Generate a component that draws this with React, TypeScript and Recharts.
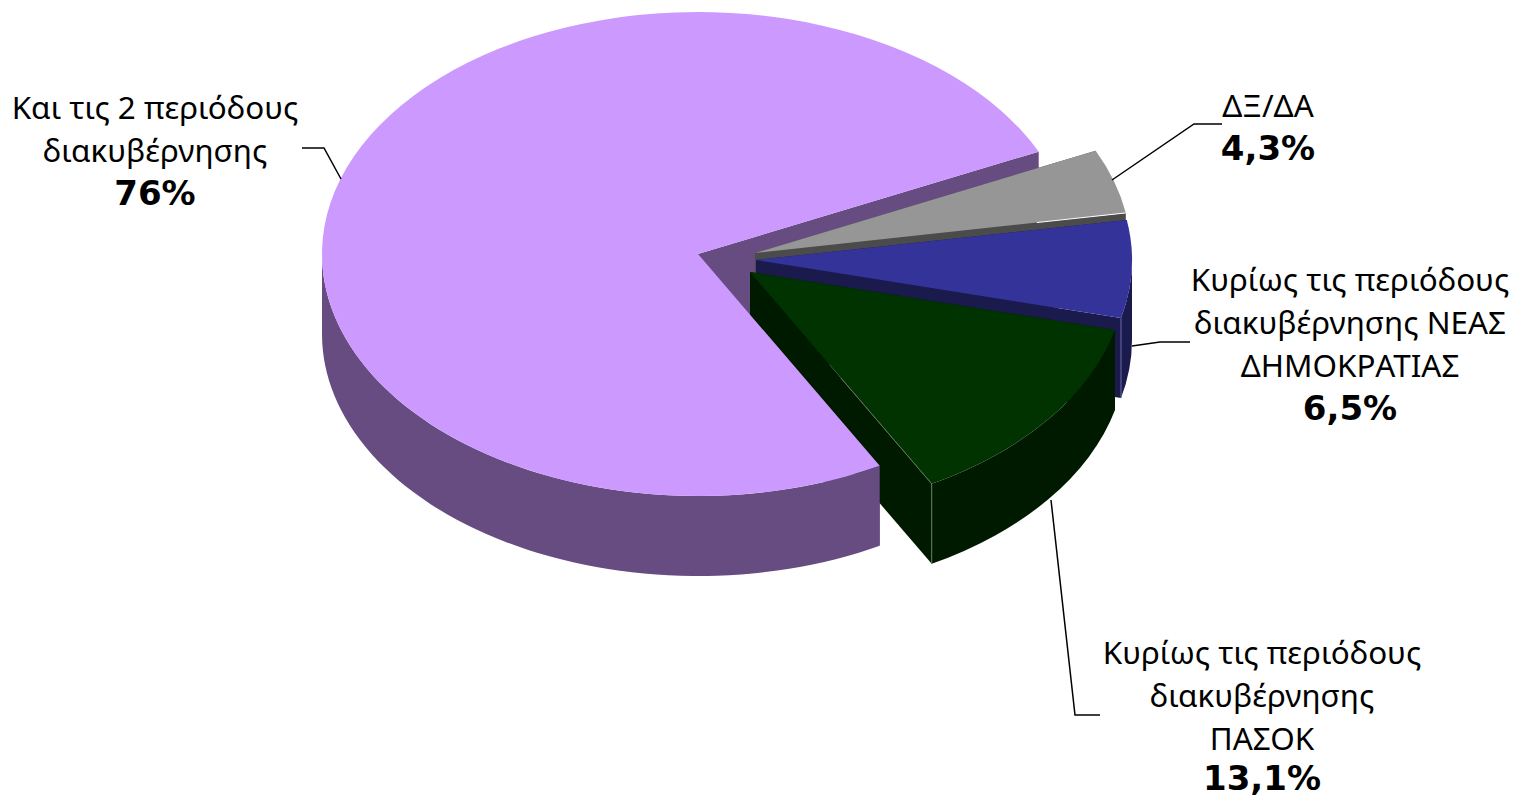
import React from 'react';
import { PieChart, Pie } from 'recharts';

const categories = ['Και τις 2 περιόδους διακυβέρνησης', 'ΔΞ/ΔΑ', 'Κυρίως τις περιόδους διακυβέρνησης ΝΕΑΣ ΔΗΜΟΚΡΑΤΙΑΣ', 'Κυρίως τις περιόδους διακυβέρνησης ΠΑΣΟΚ'];
const values = [76, 4.3, 6.5, 13.1];
const percentLabels = ['76%', '4,3%', '6,5%', '13,1%'];
const labelLines = [
  ['Και τις 2 περιόδους', 'διακυβέρνησης'],
  ['ΔΞ/ΔΑ'],
  ['Κυρίως τις περιόδους', 'διακυβέρνησης ΝΕΑΣ', 'ΔΗΜΟΚΡΑΤΙΑΣ'],
  ['Κυρίως τις περιόδους', 'διακυβέρνησης', 'ΠΑΣΟΚ'],
];

const topColors = ['#CC99FF', '#969696', '#333399', '#003300'];
const sideColors = ['#664C80', '#4B4B4B', '#1A1A4D', '#001A00'];
// thin light edges the original has on some slices
const hairColors = [null, '#FFFFFF', '#6A6AA8', '#5F7A5F'];
// how far each slice is pulled out of the pie
const explode = [[0, 0], [57, -1], [58, 6], [52, 18]];
const labelPos = [[155, 108], [1268, 106], [1350, 280], [1262, 653]];
const leaders = [
  '302,148 324,148 341,179',
  '1222,124 1194,124 1112,180',
  '1190,342 1160,342 1132,346',
  '1100,715 1075,715 1051,500',
];

const data = categories.map((name, i) => ({ name, value: values[i] }));

const CX = 698;
const CY = 254;
const RX = 376;
const RY = 242;
const DEPTH = 80;
const LINE_H = 43;
const MAX_BASELINE = 790;
const FONT = '"Noto Sans", sans-serif';
const BOLD_FONT = '"DejaVu Sans", sans-serif';

const pt = (x0: number, y0: number, a: number) => {
  const r = (a * Math.PI) / 180;
  return [x0 + RX * Math.cos(r), y0 - RY * Math.sin(r)];
};

const origin = (p: any) => {
  const [dx, dy] = explode[p.index];
  return [p.cx + dx, p.cy + dy];
};

// straight cut faces of a slice, drawn below everything else
const CutWalls = (p: any) => {
  const [x0, y0] = origin(p);
  const face = (a: number) => {
    const [x, y] = pt(x0, y0, a);
    return `M${x0},${y0} L${x},${y} L${x},${y + DEPTH} L${x0},${y0 + DEPTH} Z`;
  };
  return (
    <g>
      <path d={face(p.startAngle)} fill={sideColors[p.index]} />
      <path d={face(p.endAngle)} fill={sideColors[p.index]} />
    </g>
  );
};

const frontRange = (hi: number, lo: number) => {
  if (hi > 180 && lo < 360) return [Math.min(hi, 360), Math.max(lo, 180)];
  if (lo < 0) return [Math.min(hi, 0), Math.max(lo, -180)];
  return null;
};

const TopAndSide = (p: any) => {
  const i = p.index;
  const [x0, y0] = origin(p);
  const [sx, sy] = pt(x0, y0, p.startAngle);
  const [ex, ey] = pt(x0, y0, p.endAngle);
  const large = p.startAngle - p.endAngle > 180 ? 1 : 0;
  const range = frontRange(p.startAngle, p.endAngle);
  let side = null;
  if (range) {
    const [ax, ay] = pt(x0, y0, range[0]);
    const [bx, by] = pt(x0, y0, range[1]);
    side = `M${ax},${ay} A${RX},${RY} 0 0 1 ${bx},${by} L${bx},${by + DEPTH} A${RX},${RY} 0 0 0 ${ax},${ay + DEPTH} Z`;
  }
  const hair = hairColors[i];
  return (
    <g>
      {side && <path d={side} fill={sideColors[i]} />}
      <path d={`M${x0},${y0} L${sx},${sy} A${RX},${RY} 0 ${large} 1 ${ex},${ey} Z`} fill={topColors[i]} />
      {hair && i === 1 && (
        <line x1={x0 + (ex - x0) * 0.76} y1={y0 + (ey - y0) * 0.76} x2={ex} y2={ey} stroke={hair} strokeWidth={1} />
      )}
      {hair && i > 1 && <line x1={ex} y1={ey} x2={ex} y2={ey + DEPTH} stroke={hair} strokeWidth={1} />}
      {hair && i === 3 && (
        <line x1={x0 + (ex - x0) * 0.5} y1={y0 + (ey - y0) * 0.5} x2={ex} y2={ey} stroke={hair} strokeWidth={1} />
      )}
    </g>
  );
};

const SliceLabel = (p: any) => {
  const i = p.index;
  const [x, y] = labelPos[i];
  const lines = labelLines[i];
  return (
    <g>
      <polyline points={leaders[i]} fill="none" stroke="#000" strokeWidth={1.5} />
      <text x={x} y={y} textAnchor="middle" fontFamily={FONT} fontSize={31.4} fill="#000">
        {lines.map((t, k) => (
          <tspan key={k} x={x} y={y + 11 + k * LINE_H}>{t}</tspan>
        ))}
        <tspan x={x} y={Math.min(y + 11 + lines.length * LINE_H, MAX_BASELINE)} fontFamily={BOLD_FONT} fontWeight="bold" fontSize={34}>{percentLabels[i]}</tspan>
      </text>
    </g>
  );
};

export default function App() {
  const pieProps = {
    data,
    dataKey: 'value',
    nameKey: 'name',
    cx: CX,
    cy: CY,
    innerRadius: 0,
    outerRadius: RX,
    startAngle: 298.9,
    endAngle: -61.1,
    stroke: 'none',
    isAnimationActive: false,
  };
  return (
    <div style={{ position: 'absolute', left: 0, top: 0, width: 1515, height: 799 }}>
      <PieChart width={1515} height={799} margin={{ top: 0, right: 0, bottom: 0, left: 0 }}>
        <Pie {...pieProps} shape={CutWalls} />
        <Pie {...pieProps} shape={TopAndSide} label={SliceLabel} labelLine={false} />
      </PieChart>
    </div>
  );
}
